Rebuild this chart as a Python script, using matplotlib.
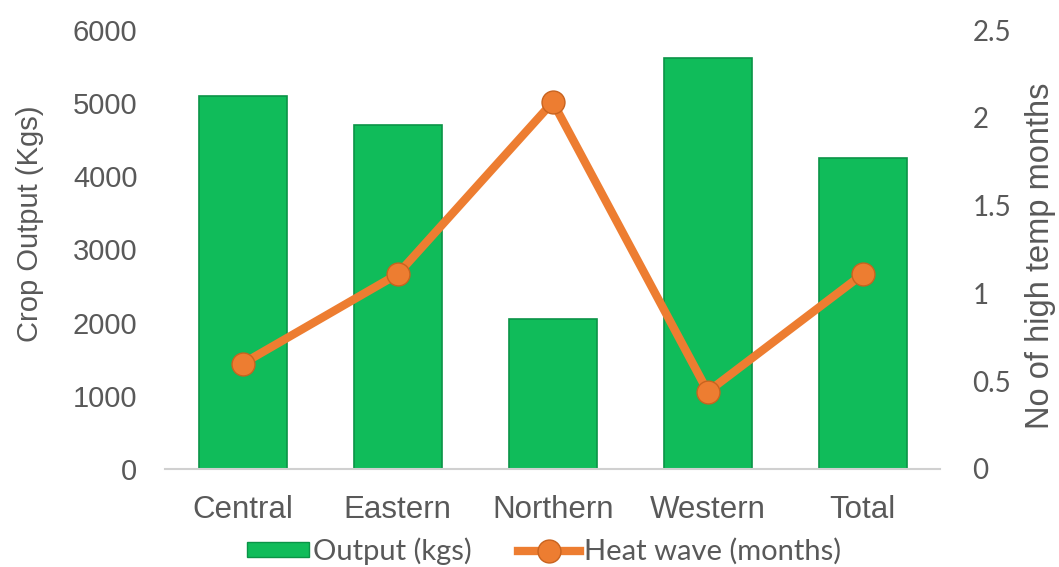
import matplotlib
matplotlib.use("Agg")
import matplotlib.pyplot as plt
from matplotlib.lines import Line2D
from matplotlib.patches import Patch

categories = ["Central", "Eastern", "Northern", "Western", "Total"]
output_kgs = [5100, 4700, 2050, 5620, 4250]
heat_wave = [0.6, 1.11, 2.09, 0.44, 1.11]

gray = "#595959"
green = "#10BC5A"
green_edge = "#0A9447"
orange = "#ED7D31"
orange_dark = "#C8631F"

fig = plt.figure(figsize=(10.59, 5.67), dpi=100)
ax = fig.add_axes([0.156, 0.173, 0.732, 0.774])
x = list(range(len(categories)))
ax.bar(x, output_kgs, width=0.57, color=green, edgecolor=green_edge, linewidth=1.2, zorder=2)
ax.set_xlim(-0.5, 4.5)
ax.set_ylim(0, 6000)
ax.set_yticks([0, 1000, 2000, 3000, 4000, 5000, 6000])
ax.set_xticks(x)
ax.set_xticklabels(categories)
for s in ["top", "right", "left"]:
    ax.spines[s].set_visible(False)
ax.spines["bottom"].set_color("#D0D0D0")
ax.spines["bottom"].set_linewidth(1.5)
ax.tick_params(axis="both", length=0, colors=gray)
ax.tick_params(axis="x", pad=19, labelsize=22.5)
ax.tick_params(axis="y", pad=20, labelsize=21)
for t in ax.get_xticklabels() + ax.get_yticklabels():
    t.set_fontfamily("Liberation Sans")
ax.set_ylabel("Crop Output (Kgs)", fontsize=21, color=gray, family="Liberation Sans",
              labelpad=21, y=0.558)

ax2 = ax.twinx()
ax2.set_ylim(0, 2.5)
ax2.set_yticks([0, 0.5, 1, 1.5, 2, 2.5])
ax2.set_yticklabels(["0", "0.5", "1", "1.5", "2", "2.5"])
ax2.plot(x, heat_wave, color=orange, linewidth=6, marker="o", markersize=16.5,
         markerfacecolor=orange, markeredgecolor=orange_dark, markeredgewidth=1, zorder=3)
for s in ["top", "right", "left", "bottom"]:
    ax2.spines[s].set_visible(False)
ax2.tick_params(axis="y", length=0, colors=gray, labelsize=20, pad=23)
for t in ax2.get_yticklabels():
    t.set_fontfamily("Lato")
ax2.set_ylabel("No of high temp months", fontsize=23.5, color=gray, family="Liberation Sans",
               labelpad=10, y=0.485)

handles = [Patch(facecolor=green, edgecolor=green_edge, label="Output (kgs)"),
           Line2D([0], [0], color=orange, linewidth=6, marker="o", markersize=16.5,
                  markerfacecolor=orange, markeredgecolor=orange_dark, label="Heat wave (months)")]
leg = fig.legend(handles=handles, loc="center", bbox_to_anchor=(0.514, 0.028), ncol=2,
                 frameon=False, handlelength=2.1, handleheight=0.45, handletextpad=0.15,
                 columnspacing=1.6, borderpad=0, prop={"family": "Lato", "size": 21})
for t in leg.get_texts():
    t.set_color(gray)

fig.savefig("out.png", dpi=100)
